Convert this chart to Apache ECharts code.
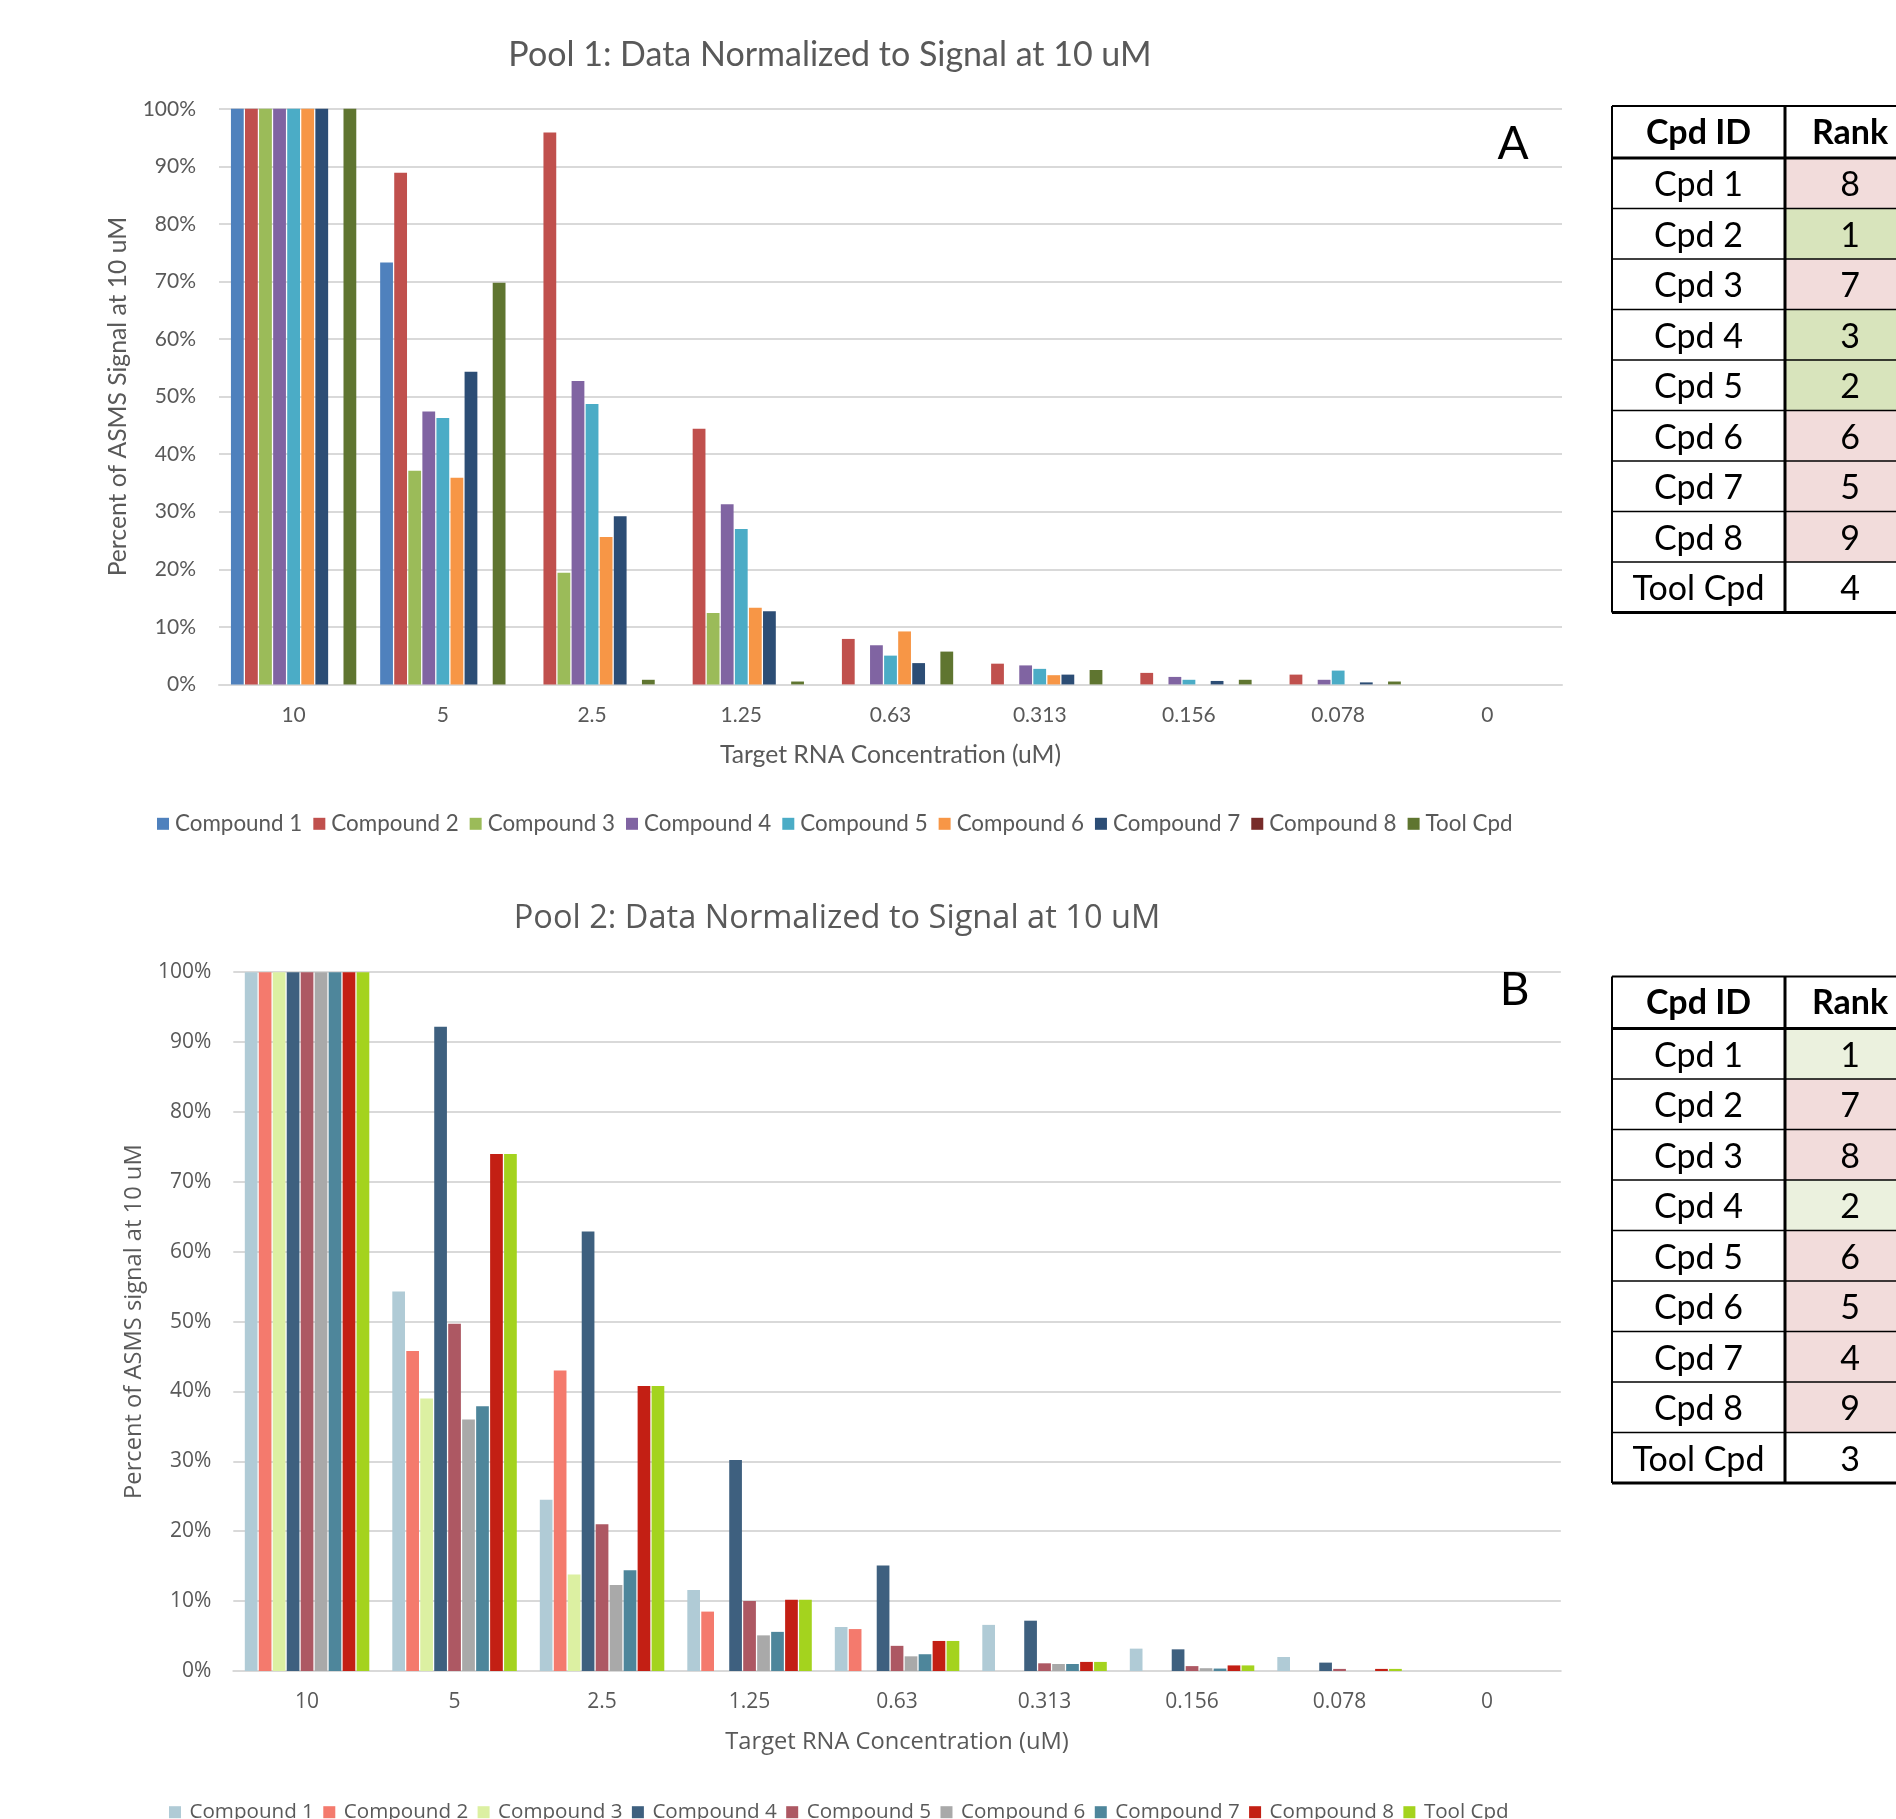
<!DOCTYPE html>
<html><head><meta charset="utf-8">
<script src="https://cdn.jsdelivr.net/npm/echarts@6/dist/echarts.min.js"></script>
<style>
html,body{margin:0;padding:0;background:#fff;width:1896px;height:1819px;overflow:hidden}
#c1{position:absolute;left:0;top:0;width:1896px;height:870px}
#c2{position:absolute;left:0;top:870px;width:1896px;height:949px}
</style>
</head><body><div id="c1"></div><div id="c2"></div>
<script>
// ---------- DATA ----------
const categories = ['10', '5', '2.5', '1.25', '0.63', '0.313', '0.156', '0.078', '0'];
const seriesNames = ['Compound 1', 'Compound 2', 'Compound 3', 'Compound 4', 'Compound 5', 'Compound 6', 'Compound 7', 'Compound 8', 'Tool Cpd'];

// Pool 1 (percent of ASMS signal at 10 uM)
const pool1_cpd1 = [100, 73.3, 0, 0, 0, 0, 0, 0, 0];
const pool1_cpd2 = [100, 88.9, 95.9, 44.4, 7.9, 3.6, 2.0, 1.7, 0];
const pool1_cpd3 = [100, 37.1, 19.4, 12.4, 0, 0, 0, 0, 0];
const pool1_cpd4 = [100, 47.4, 52.7, 31.3, 6.8, 3.3, 1.3, 0.8, 0];
const pool1_cpd5 = [100, 46.3, 48.7, 27.0, 5.0, 2.7, 0.8, 2.4, 0];
const pool1_cpd6 = [100, 35.9, 25.6, 13.3, 9.2, 1.6, 0, 0, 0];
const pool1_cpd7 = [100, 54.3, 29.2, 12.7, 3.7, 1.7, 0.6, 0.35, 0];
const pool1_cpd8 = [0, 0, 0, 0, 0, 0, 0, 0, 0];
const pool1_tool = [100, 69.8, 0.8, 0.5, 5.7, 2.5, 0.8, 0.5, 0];

// Pool 2
const pool2_cpd1 = [100, 54.3, 24.5, 11.6, 6.3, 6.6, 3.2, 2.0, 0];
const pool2_cpd2 = [100, 45.8, 43.0, 8.5, 6.0, 0, 0, 0, 0];
const pool2_cpd3 = [100, 39.0, 13.8, 0, 0, 0, 0, 0, 0];
const pool2_cpd4 = [100, 92.2, 62.9, 30.2, 15.1, 7.2, 3.1, 1.2, 0];
const pool2_cpd5 = [100, 49.7, 21.0, 10.0, 3.6, 1.1, 0.7, 0.3, 0];
const pool2_cpd6 = [100, 36.0, 12.3, 5.1, 2.1, 1.0, 0.4, 0, 0];
const pool2_cpd7 = [100, 37.9, 14.4, 5.6, 2.4, 1.0, 0.35, 0, 0];
const pool2_cpd8 = [100, 74.0, 40.8, 10.2, 4.3, 1.3, 0.8, 0.3, 0];
const pool2_tool = [100, 74.0, 40.8, 10.2, 4.3, 1.3, 0.8, 0.3, 0];

// Rank tables
const tableHeader = ['Cpd ID', 'Rank'];
const tableIds = ['Cpd 1', 'Cpd 2', 'Cpd 3', 'Cpd 4', 'Cpd 5', 'Cpd 6', 'Cpd 7', 'Cpd 8', 'Tool Cpd'];
const pool1Ranks = [8, 1, 7, 3, 2, 6, 5, 9, 4];
const pool2Ranks = [1, 7, 8, 2, 6, 5, 4, 9, 3];

// ---------- STYLE / LAYOUT ----------
const colors1 = ['#4f81bd', '#c0504d', '#9bbb59', '#8064a2', '#4bacc6', '#f79646', '#2c4d75', '#772c2a', '#5f7530'];
const colors2 = ['#b0cbd6', '#f47a6d', '#dcf0a2', '#3e607f', '#ad5863', '#a9a9a9', '#4e869b', '#c31f14', '#a4d31e'];

function tableGraphic(ranks, green, topY, font) {
  const x0 = 1612, x1 = 1785, x2 = 1915, headerH = 52, rowH = 50.5;
  const els = [];
  const toolRank = ranks[ranks.length - 1];
  const n = tableIds.length;
  ranks.forEach((r, i) => {
    const y = topY + headerH + i * rowH;
    const fill = i === n - 1 ? '#ffffff' : (r < toolRank ? green : '#f2dcdb');
    els.push({type: 'rect', shape: {x: x1, y: y, width: x2 - x1, height: rowH}, style: {fill: fill}, silent: true});
  });
  els.push({type: 'text', x: (x0 + x1) / 2, y: topY + headerH / 2 + 1, style: {text: tableHeader[0], font: 'bold 34px ' + font, fill: '#000', align: 'center', verticalAlign: 'middle'}});
  els.push({type: 'text', x: (x1 + x2) / 2, y: topY + headerH / 2 + 1, style: {text: tableHeader[1], font: 'bold 34px ' + font, fill: '#000', align: 'center', verticalAlign: 'middle'}});
  tableIds.forEach((id, i) => {
    const cy = topY + headerH + i * rowH + rowH / 2 + 2;
    els.push({type: 'text', x: (x0 + x1) / 2, y: cy, style: {text: id, font: '34px ' + font, fill: '#000', align: 'center', verticalAlign: 'middle'}});
    els.push({type: 'text', x: (x1 + x2) / 2, y: cy, style: {text: String(ranks[i]), font: '34px ' + font, fill: '#000', align: 'center', verticalAlign: 'middle'}});
  });
  for (let k = 0; k <= n + 1; k++) {
    const y = k === 0 ? topY : topY + headerH + (k - 1) * rowH;
    const w = (k === 0) ? 2 : (k === 1 || k === n + 1) ? 3 : 1.6;
    els.push({type: 'line', shape: {x1: x0, y1: y, x2: x2, y2: y}, style: {stroke: '#000', lineWidth: w}});
  }
  const yb = topY + headerH + n * rowH;
  els.push({type: 'line', shape: {x1: x0, y1: topY, x2: x0, y2: yb}, style: {stroke: '#000', lineWidth: 2}});
  els.push({type: 'line', shape: {x1: x1, y1: topY, x2: x1, y2: yb}, style: {stroke: '#000', lineWidth: 3}});
  return els;
}

function build(cfg) {
  const font = cfg.font;
  const txt = (size) => ({fontFamily: font, fontSize: size, color: '#595959', fontWeight: 'normal'});
  return {
    animation: false,
    title: {
      text: cfg.title, left: cfg.titleX, top: cfg.titleY - cfg.titleSize / 2 - 1, textAlign: 'center', padding: 0,
      textStyle: txt(cfg.titleSize)
    },
    legend: {
      left: cfg.legendX, top: cfg.legendY - cfg.legendSize / 2 - 1, padding: 0,
      itemWidth: 12, itemHeight: 12, itemGap: cfg.legendGap, icon: 'rect', selectedMode: false,
      textStyle: Object.assign(txt(cfg.legendSize), {padding: [0, 0, 0, cfg.legendTextPad]}),
      data: seriesNames
    },
    grid: {left: cfg.grid[0], top: cfg.grid[1], width: cfg.grid[2], height: cfg.grid[3], containLabel: false},
    xAxis: {
      type: 'category', data: categories,
      axisTick: {show: false},
      axisLine: {lineStyle: {color: '#d9d9d9', width: 2}},
      axisLabel: Object.assign(txt(cfg.labelSize), {margin: cfg.xMargin}),
      name: 'Target RNA Concentration (uM)', nameLocation: 'middle', nameGap: cfg.xNameGap,
      nameTextStyle: txt(cfg.nameSize)
    },
    yAxis: {
      type: 'value', min: 0, max: 100, interval: 10,
      axisLine: {show: false}, axisTick: {show: false},
      splitLine: {lineStyle: {color: '#d9d9d9', width: 2}},
      axisLabel: Object.assign(txt(cfg.labelSize), {margin: cfg.yMargin, formatter: '{value}%'}),
      name: cfg.yName, nameLocation: 'middle', nameGap: cfg.yNameGap, nameRotate: 90,
      nameTextStyle: txt(cfg.nameSize)
    },
    series: seriesNames.map((nm, i) => ({
      type: 'bar', name: nm, data: cfg.data[i],
      barGap: '10%', barCategoryGap: cfg.catGap,
      itemStyle: {color: cfg.colors[i]}
    })),
    graphic: tableGraphic(cfg.ranks, cfg.green, cfg.tableTop, cfg.tableFont).concat([
      {type: 'text', x: cfg.letterPos[0], y: cfg.letterPos[1],
       style: {text: cfg.letter, font: '46px ' + cfg.tableFont, fill: '#000', align: 'center', verticalAlign: 'middle'}, z: 10}
    ])
  };
}

const chart1 = echarts.init(document.getElementById('c1'), null, {renderer: 'canvas'});
chart1.setOption(build({
  font: 'Lato', tableFont: 'Lato',
  title: 'Pool 1: Data Normalized to Signal at 10 uM', titleX: 830, titleY: 56, titleSize: 34,
  legendX: 157, legendY: 825, legendSize: 22.4, legendGap: 11, legendTextPad: 1,
  grid: [219, 108.8, 1343, 575.6],
  labelSize: 21, xMargin: 20, yMargin: 23, nameSize: 24.7, xNameGap: 58, yNameGap: 88,
  yName: 'Percent of ASMS Signal at 10 uM',
  catGap: '16%', colors: colors1,
  data: [pool1_cpd1, pool1_cpd2, pool1_cpd3, pool1_cpd4, pool1_cpd5, pool1_cpd6, pool1_cpd7, pool1_cpd8, pool1_tool],
  ranks: pool1Ranks, green: '#d8e4bc', tableTop: 106,
  letter: 'A', letterPos: [1513, 144]
}));

const chart2 = echarts.init(document.getElementById('c2'), null, {renderer: 'canvas'});
chart2.setOption(build({
  font: 'Open Sans', tableFont: 'Lato',
  title: 'Pool 2: Data Normalized to Signal at 10 uM', titleX: 837, titleY: 50, titleSize: 32.6,
  legendX: 169, legendY: 943, legendSize: 20.6, legendGap: 9.4, legendTextPad: 3.5,
  grid: [233.3, 102.2, 1327.5, 698.8],
  labelSize: 21, xMargin: 21, yMargin: 22, nameSize: 23.7, xNameGap: 59, yNameGap: 87,
  yName: 'Percent of ASMS signal at 10 uM',
  catGap: '15.6%', colors: colors2,
  data: [pool2_cpd1, pool2_cpd2, pool2_cpd3, pool2_cpd4, pool2_cpd5, pool2_cpd6, pool2_cpd7, pool2_cpd8, pool2_tool],
  ranks: pool2Ranks, green: '#ebf1de', tableTop: 106.5,
  letter: 'B', letterPos: [1514.5, 120]
}));
</script>
</body></html>
